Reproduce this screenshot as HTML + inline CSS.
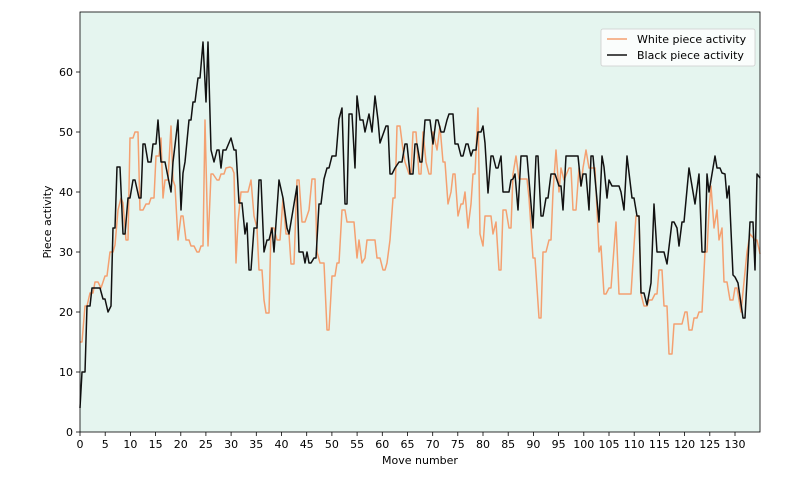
<!DOCTYPE html>
<html><head><meta charset="utf-8"><style>
html,body{margin:0;padding:0;background:#fff;}
svg{display:block;font-family:"DejaVu Sans","Liberation Sans",sans-serif;}
</style></head><body>
<svg width="800" height="480" viewBox="0 0 800 480" xmlns="http://www.w3.org/2000/svg">
<rect x="80" y="12" width="680" height="420" fill="#e5f5ef"/>
<polyline fill="none" stroke="#f4a070" stroke-width="1.5" stroke-linejoin="round" points="80,342 82,342 85,306 87,306 90,293 93,293 95,282 98,282 101,288 105,276 107,276 110,252 113,252 115,245 118,210 121,198 123,203 126,240 128,240 130,138 133,138 135,132 138,132 140,210 143,210 146,204 149,204 151,198 154,198 156,156 159,156 161,138 163,198 165,180 168,180 171,126 173,180 175,186 178,240 181,216 183,216 186,240 189,240 191,246 194,246 197,252 199,252 201,246 203,246 205,120 208,246 211,174 213,174 217,180 219,180 221,174 224,174 226,168 230,167 232,168 234,173 236,263 238,222 241,192 248,192 251,180 254,216 257,228 259,270 262,270 264,300 266,313 269,313 271,228 274,228 277,240 280,240 283,198 286,234 289,234 291,264 294,264 297,180 299,180 302,222 305,222 309,210 312,179 315,179 317,252 320,263 324,263 327,330 329,330 332,276 335,276 337,263 339,263 342,210 345,210 347,222 354,222 357,258 359,240 362,263 365,258 367,240 375,240 377,258 380,258 383,270 385,270 387,263 390,240 393,198 395,198 397,126 400,126 403,150 405,162 409,174 411,174 413,132 416,132 419,174 421,174 423,132 426,162 429,174 431,174 433,132 437,150 440,126 443,162 445,162 448,204 451,192 453,174 455,174 458,216 461,204 463,204 465,192 468,228 471,204 473,174 475,174 478,108 480,234 483,246 485,216 491,216 493,234 496,222 499,270 501,270 503,210 506,210 509,228 511,228 513,174 516,156 519,179 527,179 529,198 533,258 535,258 539,318 541,318 543,252 546,252 549,240 551,240 553,192 556,150 559,192 561,168 564,180 569,168 571,168 573,210 576,210 579,168 581,186 583,168 586,150 589,168 595,168 599,252 601,246 604,294 606,294 609,288 611,288 616,222 619,294 631,294 634,246 636,216 639,216 641,294 644,306 647,306 649,300 652,300 655,294 657,294 659,270 662,270 664,306 667,306 669,354 672,354 674,324 682,324 685,312 687,312 689,330 692,330 694,318 697,318 699,312 702,312 705,252 707,252 709,210 711,186 714,228 717,210 719,240 722,228 724,282 727,282 730,300 733,300 735,288 737,288 741,312 747,252 750,234 755,240 757,240 760,254"/>
<polyline fill="none" stroke="#111" stroke-width="1.5" stroke-linejoin="round" points="80,408 82,372 85,372 87,306 90,306 92,288 100,288 103,299 105,299 108,312 111,306 113,228 115,228 117,167 120,167 123,234 125,234 128,198 130,198 133,180 135,180 139,198 141,198 143,144 145,144 148,162 151,162 153,144 156,144 158,120 161,162 165,162 171,192 173,162 178,120 181,210 183,173 185,162 189,120 191,120 193,102 195,102 198,78 200,78 203,42 206,102 208,42 211,150 214,162 217,150 219,150 221,168 223,150 226,150 231,138 234,150 236,150 239,203 242,203 245,234 247,223 249,270 251,270 254,228 257,228 259,180 261,180 264,252 267,240 269,240 272,228 274,252 279,180 283,198 287,228 289,234 297,186 299,252 303,252 305,263 307,252 309,263 311,263 314,258 316,258 319,204 321,204 324,179 327,168 329,168 332,156 336,156 339,119 342,108 345,204 347,204 349,114 352,114 355,168 357,96 360,120 363,120 365,132 369,114 372,132 375,96 378,120 380,143 386,126 388,126 390,174 392,174 395,168 399,162 402,162 405,144 407,144 410,174 413,174 415,144 417,144 420,162 422,162 425,120 430,120 433,144 436,120 438,120 441,132 444,132 447,120 449,114 453,114 455,144 458,144 461,156 463,156 466,144 468,144 471,156 473,150 476,150 478,132 481,132 483,126 485,143 488,193 491,156 493,156 496,168 498,168 501,156 503,192 509,192 511,180 513,179 515,174 518,210 521,156 527,156 533,228 536,156 538,156 541,216 543,216 546,198 548,198 551,174 555,174 559,186 561,186 563,210 566,156 578,156 581,186 583,174 586,174 589,210 591,156 593,156 599,222 602,156 604,167 607,198 609,180 612,186 619,186 621,192 624,210 627,156 632,198 634,198 637,216 639,216 641,293 644,293 647,305 651,283 654,204 657,252 664,252 667,264 672,222 674,222 677,228 679,246 682,222 684,222 689,168 695,204 699,174 702,252 705,252 707,174 709,192 715,156 717,168 720,168 722,173 725,174 727,198 729,186 733,275 735,277 738,283 743,318 745,318 750,222 753,222 755,270 757,174 760,178"/>
<rect x="80" y="12" width="680" height="420" fill="none" stroke="#000" stroke-width="0.8"/>
<g stroke="#000" stroke-width="0.8">
<line x1="76" y1="432" x2="80" y2="432"/><line x1="76" y1="372" x2="80" y2="372"/><line x1="76" y1="312" x2="80" y2="312"/><line x1="76" y1="252" x2="80" y2="252"/><line x1="76" y1="192" x2="80" y2="192"/><line x1="76" y1="132" x2="80" y2="132"/><line x1="76" y1="72" x2="80" y2="72"/>
</g>
<g font-size="11" fill="#000" text-anchor="end">
<text x="73" y="436">0</text><text x="73" y="376">10</text><text x="73" y="316">20</text><text x="73" y="256">30</text><text x="73" y="196">40</text><text x="73" y="136">50</text><text x="73" y="76">60</text>
</g>
<g id="xt" font-size="11" fill="#000" text-anchor="middle">
<line x1="80" y1="432" x2="80" y2="436" stroke="#000" stroke-width="0.8"/><text x="80" y="448">0</text>
<line x1="105.2" y1="432" x2="105.2" y2="436" stroke="#000" stroke-width="0.8"/><text x="105.2" y="448">5</text>
<line x1="130.4" y1="432" x2="130.4" y2="436" stroke="#000" stroke-width="0.8"/><text x="130.4" y="448">10</text>
<line x1="155.6" y1="432" x2="155.6" y2="436" stroke="#000" stroke-width="0.8"/><text x="155.6" y="448">15</text>
<line x1="180.8" y1="432" x2="180.8" y2="436" stroke="#000" stroke-width="0.8"/><text x="180.8" y="448">20</text>
<line x1="205.9" y1="432" x2="205.9" y2="436" stroke="#000" stroke-width="0.8"/><text x="205.9" y="448">25</text>
<line x1="231.1" y1="432" x2="231.1" y2="436" stroke="#000" stroke-width="0.8"/><text x="231.1" y="448">30</text>
<line x1="256.3" y1="432" x2="256.3" y2="436" stroke="#000" stroke-width="0.8"/><text x="256.3" y="448">35</text>
<line x1="281.5" y1="432" x2="281.5" y2="436" stroke="#000" stroke-width="0.8"/><text x="281.5" y="448">40</text>
<line x1="306.7" y1="432" x2="306.7" y2="436" stroke="#000" stroke-width="0.8"/><text x="306.7" y="448">45</text>
<line x1="331.9" y1="432" x2="331.9" y2="436" stroke="#000" stroke-width="0.8"/><text x="331.9" y="448">50</text>
<line x1="357.1" y1="432" x2="357.1" y2="436" stroke="#000" stroke-width="0.8"/><text x="357.1" y="448">55</text>
<line x1="382.3" y1="432" x2="382.3" y2="436" stroke="#000" stroke-width="0.8"/><text x="382.3" y="448">60</text>
<line x1="407.5" y1="432" x2="407.5" y2="436" stroke="#000" stroke-width="0.8"/><text x="407.5" y="448">65</text>
<line x1="432.7" y1="432" x2="432.7" y2="436" stroke="#000" stroke-width="0.8"/><text x="432.7" y="448">70</text>
<line x1="457.8" y1="432" x2="457.8" y2="436" stroke="#000" stroke-width="0.8"/><text x="457.8" y="448">75</text>
<line x1="483" y1="432" x2="483" y2="436" stroke="#000" stroke-width="0.8"/><text x="483" y="448">80</text>
<line x1="508.2" y1="432" x2="508.2" y2="436" stroke="#000" stroke-width="0.8"/><text x="508.2" y="448">85</text>
<line x1="533.4" y1="432" x2="533.4" y2="436" stroke="#000" stroke-width="0.8"/><text x="533.4" y="448">90</text>
<line x1="558.6" y1="432" x2="558.6" y2="436" stroke="#000" stroke-width="0.8"/><text x="558.6" y="448">95</text>
<line x1="583.8" y1="432" x2="583.8" y2="436" stroke="#000" stroke-width="0.8"/><text x="583.8" y="448">100</text>
<line x1="609" y1="432" x2="609" y2="436" stroke="#000" stroke-width="0.8"/><text x="609" y="448">105</text>
<line x1="634.2" y1="432" x2="634.2" y2="436" stroke="#000" stroke-width="0.8"/><text x="634.2" y="448">110</text>
<line x1="659.4" y1="432" x2="659.4" y2="436" stroke="#000" stroke-width="0.8"/><text x="659.4" y="448">115</text>
<line x1="684.6" y1="432" x2="684.6" y2="436" stroke="#000" stroke-width="0.8"/><text x="684.6" y="448">120</text>
<line x1="709.8" y1="432" x2="709.8" y2="436" stroke="#000" stroke-width="0.8"/><text x="709.8" y="448">125</text>
<line x1="735" y1="432" x2="735" y2="436" stroke="#000" stroke-width="0.8"/><text x="735" y="448">130</text>
</g>
<text x="420" y="464" font-size="11" text-anchor="middle">Move number</text>
<text transform="translate(51,222) rotate(-90)" font-size="11" text-anchor="middle">Piece activity</text>
<rect x="601" y="29" width="154" height="37" rx="2" fill="#fff" fill-opacity="0.8" stroke="#ccc" stroke-width="0.8"/>
<line x1="607" y1="39" x2="627" y2="39" stroke="#f4a070" stroke-width="1.5"/>
<text x="637" y="43" font-size="11">White piece activity</text>
<line x1="607" y1="55" x2="627" y2="55" stroke="#111" stroke-width="1.5"/>
<text x="637" y="59" font-size="11">Black piece activity</text>
</svg>
</body></html>
